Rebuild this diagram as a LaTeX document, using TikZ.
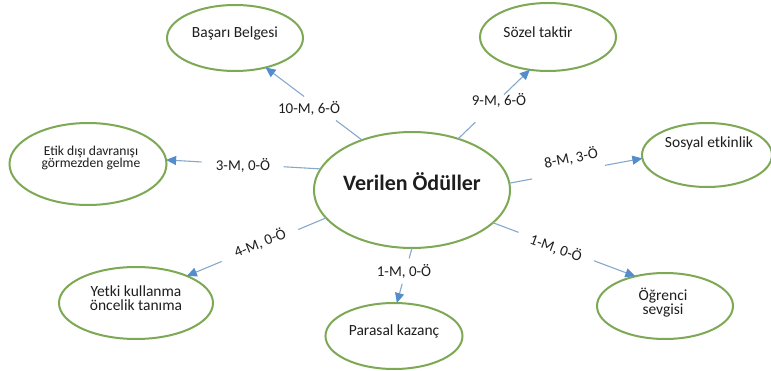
\documentclass[tikz,border=0pt]{standalone}
\usepackage{fontspec}
\setmainfont{Carlito}
\usetikzlibrary{shapes.geometric,arrows.meta,calc}
\definecolor{ringgreen}{RGB}{125,168,84}
\definecolor{linkblue}{RGB}{135,168,205}
\definecolor{tipblue}{RGB}{84,141,204}
\definecolor{inktext}{RGB}{30,30,30}

\begin{document}
\begin{tikzpicture}[x=1pt,y=-1pt,
  bubble/.style={ellipse, draw=ringgreen, line width=2pt, inner sep=0pt, outer sep=0pt},
  caption/.style={font=\fontsize{15.5}{14}\selectfont, text=inktext, align=center, inner sep=0pt},
  tag/.style={font=\fontsize{15}{15}\selectfont, text=inktext, inner sep=0pt},
  link/.style={draw=linkblue, line width=1.1pt},
  linkarrow/.style={link, -{Triangle[length=10pt,width=9pt,color=tipblue]}},
]
\useasboundingbox[fill=white] (0,0) rectangle (771,371);

% central bubble
\node[bubble, minimum width=196pt, minimum height=116pt] (hub) at (412,190) {};
\node[font=\bfseries\fontsize{22}{22}\selectfont, text=inktext, inner sep=0pt] (hubtext) at (412,182) {Verilen Ödüller};

% outer bubbles
\node[bubble, minimum width=136pt, minimum height=66pt] (bas) at (235,38) {};
\node[caption] (bastext) at (235,33) {Başarı Belgesi};

\node[bubble, minimum width=136pt, minimum height=68pt] (soz) at (548,37) {};
\node[caption] (soztext) at (538,32) {Sözel taktir};

\node[bubble, minimum width=130pt, minimum height=64pt] (sos) at (707,155) {};
\node[caption] (sostext) at (709,143) {Sosyal etkinlik};

\node[bubble, minimum width=157pt, minimum height=82pt] (etik) at (88,164) {};
\node[caption, font=\fontsize{13.6}{12}\selectfont] (etiktext) at (91,158) {Etik dışı davranışı\\görmezden gelme};

\node[bubble, minimum width=154pt, minimum height=72pt] (yet) at (136,303) {};
\node[caption] (yettext) at (136,298) {Yetki kullanma\\öncelik tanıma};

\node[bubble, minimum width=137pt, minimum height=66pt] (par) at (394,336) {};
\node[caption] (partext) at (394,331) {Parasal kazanç};

\node[bubble, minimum width=136pt, minimum height=66pt] (ogr) at (665,306) {};
\node[caption] (ogrtext) at (663,303) {Öğrenci\\sevgisi};

% connectors, each broken around its label
\draw[link] (hub.135) -- ($(hub.135)!0.27!(bas.-44)$);
\draw[linkarrow] ($(hub.135)!0.60!(bas.-44)$) -- (bas.-44);
\node[tag] (t1) at (309,108) {10-M, 6-Ö};

\draw[link] (hub.48) -- ($(hub.48)!0.24!(soz.-119)$);
\draw[linkarrow] ($(hub.48)!0.64!(soz.-119)$) -- (soz.-119);
\node[tag] (t2) at (499,100) {9-M, 6-Ö};

\draw[link] (hub.4) -- ($(hub.4)!0.17!(sos.183)$);
\draw[linkarrow] ($(hub.4)!0.72!(sos.183)$) -- (sos.183);
\node[tag, rotate=11] (t3) at (571,158) {8-M, 3-Ö};

\draw[link] (hub.167) -- ($(hub.167)!0.24!(etik.3)$);
\draw[linkarrow] ($(hub.167)!0.77!(etik.3)$) -- (etik.3);
\node[tag] (t4) at (243,165) {3-M, 0-Ö};

\draw[link] (hub.198) -- ($(hub.198)!0.20!(yet.28)$);
\draw[linkarrow] ($(hub.198)!0.75!(yet.28)$) -- (yet.28);
\node[tag, rotate=22] (t5) at (260,243) {4-M, 0-Ö};

\draw[link] (hub.-90) -- ($(hub.-90)!0.19!(par.85)$);
\draw[linkarrow] ($(hub.-90)!0.65!(par.85)$) -- (par.85);
\node[tag] (t6) at (404,271) {1-M, 0-Ö};

\draw[link] (hub.-22) -- ($(hub.-22)!0.18!(ogr.135)$);
\draw[linkarrow] ($(hub.-22)!0.71!(ogr.135)$) -- (ogr.135);
\node[tag, rotate=-20] (t7) at (556,248) {1-M, 0-Ö};
\end{tikzpicture}
\end{document}
